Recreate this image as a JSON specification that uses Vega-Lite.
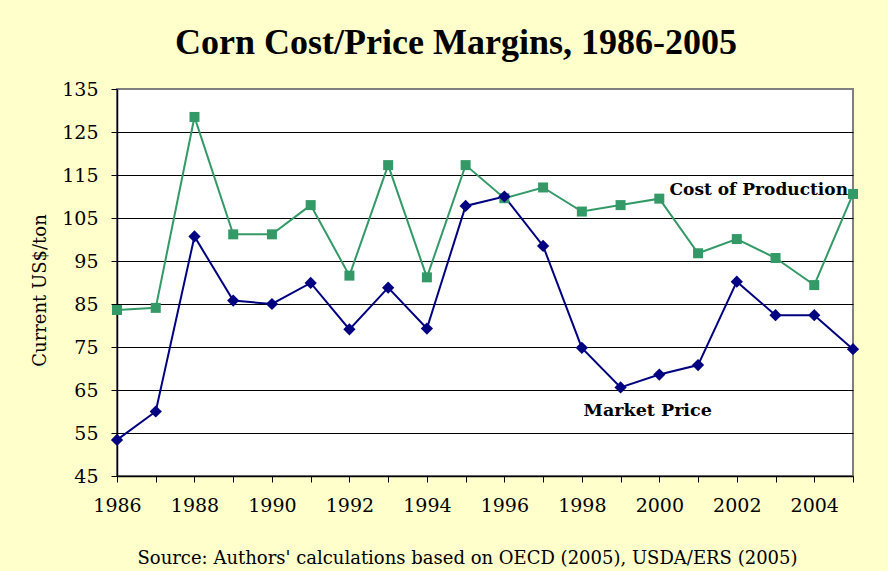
{
  "$schema": "https://vega.github.io/schema/vega-lite/v6.json",
  "width": 736,
  "height": 387,
  "autosize": "none",
  "padding": {"left": 117, "top": 89, "right": 35, "bottom": 95},
  "background": "#FFFFCC",
  "config": {
    "view": {"fill": "white", "stroke": "#808080", "strokeWidth": 2},
    "font": "DejaVu Serif"
  },
  "title": {
    "text": "Corn Cost/Price Margins, 1986-2005",
    "font": "Liberation Serif",
    "fontSize": 36,
    "fontWeight": "bold",
    "color": "black",
    "anchor": "middle",
    "frame": "group",
    "baseline": "alphabetic",
    "dx": -29,
    "offset": -10
  },
  "datasets": {
    "series": [
      {"year": 1986, "series": "Cost of Production", "value": 83.6},
      {"year": 1987, "series": "Cost of Production", "value": 84.1},
      {"year": 1988, "series": "Cost of Production", "value": 128.5},
      {"year": 1989, "series": "Cost of Production", "value": 101.2},
      {"year": 1990, "series": "Cost of Production", "value": 101.2},
      {"year": 1991, "series": "Cost of Production", "value": 108.0},
      {"year": 1992, "series": "Cost of Production", "value": 91.6},
      {"year": 1993, "series": "Cost of Production", "value": 117.3},
      {"year": 1994, "series": "Cost of Production", "value": 91.2},
      {"year": 1995, "series": "Cost of Production", "value": 117.3},
      {"year": 1996, "series": "Cost of Production", "value": 109.6},
      {"year": 1997, "series": "Cost of Production", "value": 112.1},
      {"year": 1998, "series": "Cost of Production", "value": 106.5},
      {"year": 1999, "series": "Cost of Production", "value": 108.0},
      {"year": 2000, "series": "Cost of Production", "value": 109.5},
      {"year": 2001, "series": "Cost of Production", "value": 96.8},
      {"year": 2002, "series": "Cost of Production", "value": 100.1},
      {"year": 2003, "series": "Cost of Production", "value": 95.7},
      {"year": 2004, "series": "Cost of Production", "value": 89.4},
      {"year": 2005, "series": "Cost of Production", "value": 110.6},
      {"year": 1986, "series": "Market Price", "value": 53.4},
      {"year": 1987, "series": "Market Price", "value": 60.0},
      {"year": 1988, "series": "Market Price", "value": 100.7},
      {"year": 1989, "series": "Market Price", "value": 85.8},
      {"year": 1990, "series": "Market Price", "value": 85.0},
      {"year": 1991, "series": "Market Price", "value": 89.9},
      {"year": 1992, "series": "Market Price", "value": 79.1},
      {"year": 1993, "series": "Market Price", "value": 88.8},
      {"year": 1994, "series": "Market Price", "value": 79.3},
      {"year": 1995, "series": "Market Price", "value": 107.8},
      {"year": 1996, "series": "Market Price", "value": 110.0},
      {"year": 1997, "series": "Market Price", "value": 98.5},
      {"year": 1998, "series": "Market Price", "value": 74.8},
      {"year": 1999, "series": "Market Price", "value": 65.6},
      {"year": 2000, "series": "Market Price", "value": 68.6},
      {"year": 2001, "series": "Market Price", "value": 70.8},
      {"year": 2002, "series": "Market Price", "value": 90.2},
      {"year": 2003, "series": "Market Price", "value": 82.4},
      {"year": 2004, "series": "Market Price", "value": 82.4},
      {"year": 2005, "series": "Market Price", "value": 74.5}
    ],
    "labels": [
      {"year": 2005, "value": 111.5, "label": "Cost of Production", "align": "right"},
      {"year": 1999.7, "value": 60.1, "label": "Market Price", "align": "center"}
    ]
  },
  "encoding": {
    "x": {
      "field": "year",
      "type": "quantitative",
      "scale": {"domain": [1986, 2005], "nice": false, "zero": false},
      "axis": {
        "values": [1986, 1987, 1988, 1989, 1990, 1991, 1992, 1993, 1994, 1995, 1996, 1997, 1998, 1999, 2000, 2001, 2002, 2003, 2004, 2005],
        "labelExpr": "datum.value % 2 == 0 && datum.value < 2005 ? '' + datum.value : ''",
        "grid": false,
        "domainColor": "black",
        "domainWidth": 1.5,
        "tickColor": "black",
        "tickSize": 6,
        "labelFont": "DejaVu Serif",
        "labelFontSize": 19,
        "labelColor": "black",
        "labelPadding": 14,
        "labelFlush": false,
        "labelOverlap": false,
        "title": "Source: Authors' calculations based on OECD (2005), USDA/ERS (2005)",
        "titleFont": "DejaVu Serif",
        "titleFontSize": 18,
        "titleFontWeight": "normal",
        "titleColor": "black",
        "titleX": 350,
        "titleY": 87,
        "titleAlign": "center",
        "titleBaseline": "alphabetic"
      }
    },
    "y": {
      "field": "value",
      "type": "quantitative",
      "scale": {"domain": [45, 135], "nice": false, "zero": false},
      "axis": {
        "values": [45, 55, 65, 75, 85, 95, 105, 115, 125, 135],
        "grid": true,
        "gridColor": {"condition": {"test": "datum.value == 135 || datum.value == 45", "value": "#808080"}, "value": "black"},
        "gridWidth": 1.2,
        "gridOpacity": 1,
        "domainColor": "black",
        "domainWidth": 1.5,
        "tickColor": "black",
        "tickSize": 6,
        "labelFont": "DejaVu Serif",
        "labelFontSize": 19,
        "labelColor": "black",
        "labelPadding": 13,
        "labelFlush": false,
        "title": "Current US$/ton",
        "titleFont": "DejaVu Serif",
        "titleFontSize": 18,
        "titleFontWeight": "normal",
        "titleColor": "black",
        "titleX": -77,
        "titleY": 201,
        "titleAngle": -90,
        "titleAlign": "center",
        "titleBaseline": "middle"
      }
    }
  },
  "layer": [
    {
      "data": {"name": "series"},
      "mark": {"type": "line", "strokeWidth": 2},
      "encoding": {
        "color": {
          "field": "series",
          "type": "nominal",
          "scale": {"domain": ["Cost of Production", "Market Price"], "range": ["#339966", "#000080"]},
          "legend": null
        }
      }
    },
    {
      "data": {"name": "series"},
      "mark": {"type": "point", "filled": true, "opacity": 1},
      "encoding": {
        "color": {
          "field": "series",
          "type": "nominal",
          "scale": {"domain": ["Cost of Production", "Market Price"], "range": ["#339966", "#000080"]},
          "legend": null
        },
        "shape": {
          "field": "series",
          "type": "nominal",
          "scale": {"domain": ["Cost of Production", "Market Price"], "range": ["square", "diamond"]},
          "legend": null
        },
        "size": {
          "field": "series",
          "type": "nominal",
          "scale": {"domain": ["Cost of Production", "Market Price"], "range": [100, 150]},
          "legend": null
        }
      }
    },
    {
      "data": {"name": "labels"},
      "transform": [{"filter": "datum.align == 'right'"}],
      "mark": {"type": "text", "align": "right", "baseline": "middle", "dx": -5, "font": "DejaVu Serif", "fontSize": 17, "fontWeight": "bold", "color": "black"},
      "encoding": {"text": {"field": "label"}}
    },
    {
      "data": {"name": "labels"},
      "transform": [{"filter": "datum.align == 'center'"}],
      "mark": {"type": "text", "align": "center", "baseline": "middle", "font": "DejaVu Serif", "fontSize": 17.5, "fontWeight": "bold", "color": "black"},
      "encoding": {"text": {"field": "label"}}
    }
  ]
}
